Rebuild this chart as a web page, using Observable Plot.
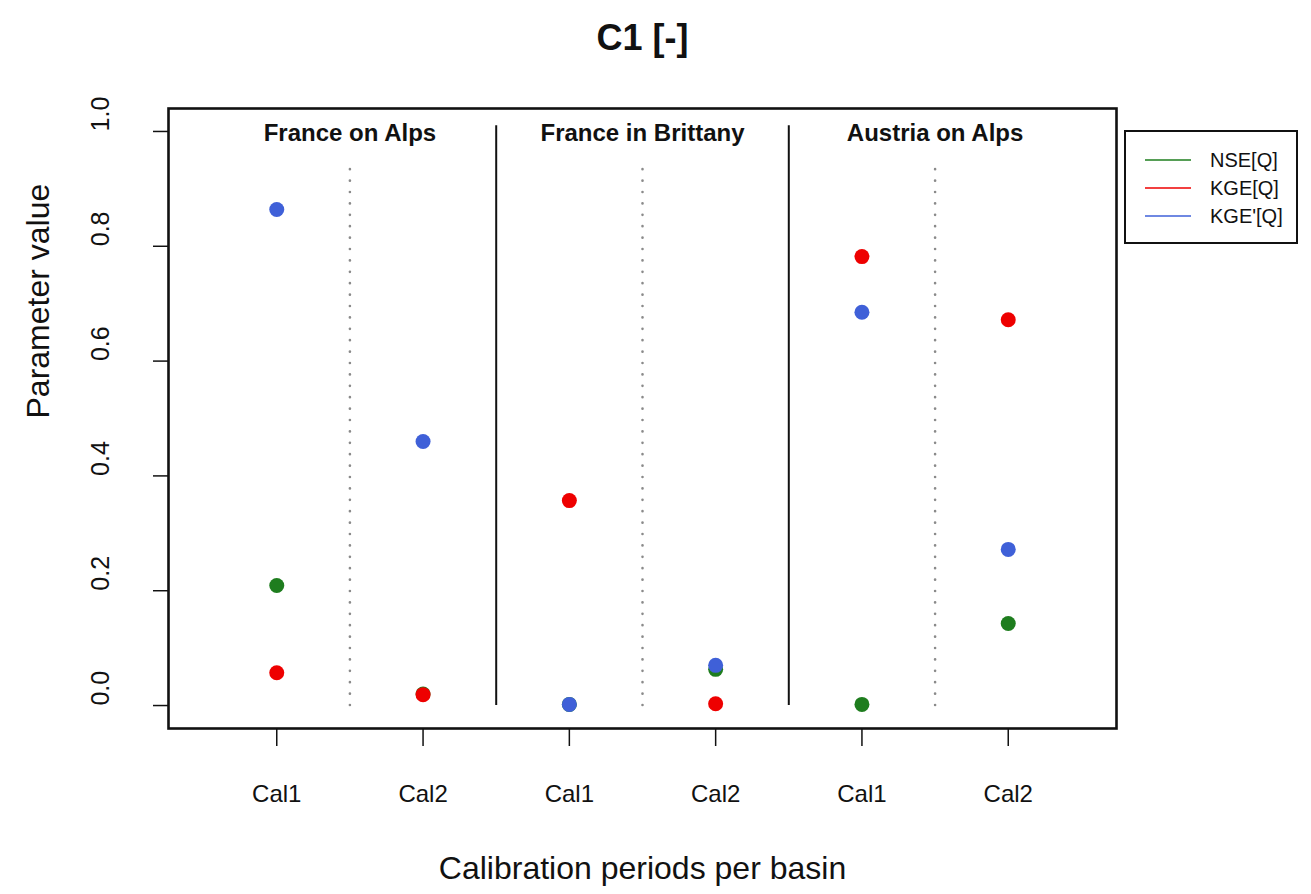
<!DOCTYPE html>
<html>
<head>
<meta charset="utf-8">
<script src="https://cdn.jsdelivr.net/npm/d3@7"></script>
<script src="https://cdn.jsdelivr.net/npm/@observablehq/plot@0.6"></script>
<style>
  body { margin: 0; background: #fff; font-family: "Liberation Sans", Arial, Helvetica, sans-serif; }
  #chart { position: relative; width: 1311px; height: 894px; }
  .legend { position: absolute; left: 1124px; top: 130px; width: 170px; height: 110px;
            border: 2px solid #111; background: #fff; }
  .legend .row { position: absolute; left: 0; height: 24px; width: 100%; }
  .legend .swatch { position: absolute; left: 19px; top: 11px; width: 46px; height: 2px; }
  .legend .label { position: absolute; left: 84px; top: 0; font-size: 20px; line-height: 24px; color: #111; }
</style>
</head>
<body>
<div id="chart"></div>
<script>
// Basins, calibration periods and criteria
const basins = ["France on Alps", "France in Brittany", "Austria on Alps"];
const periods = ["Cal1", "Cal2"];
const series = ["NSE[Q]", "KGE[Q]", "KGE'[Q]"];
const colors = ["#1e7d1e", "#ee0000", "#3f60d8"];

// C1 parameter per slot: (Alps Cal1, Alps Cal2, Brittany Cal1, Brittany Cal2, Austria Cal1, Austria Cal2)
const nseValues = [0.209, 0.020, 0.002, 0.063, 0.002, 0.143];
const kgeValues = [0.057, 0.019, 0.357, 0.003, 0.782, 0.672];
const kgePrimeValues = [0.864, 0.460, 0.002, 0.070, 0.685, 0.272];

const yTicks = [0, 0.2, 0.4, 0.6, 0.8, 1.0];

// Slot positions 1..6, basin centres and basin boundaries
const slots = d3.range(1, basins.length * periods.length + 1);
const basinCenters = basins.map((_, i) => i * periods.length + 1.5);
const basinBounds = basins.slice(1).map((_, i) => (i + 1) * periods.length + 0.5);

const rows = [nseValues, kgeValues, kgePrimeValues].flatMap((vals, s) =>
  vals.map((v, j) => ({ series: series[s], slot: slots[j], value: v }))
);

const font = "'Liberation Sans', Arial, Helvetica, sans-serif";

const plot = Plot.plot({
  width: 1311,
  height: 894,
  marginLeft: 168,
  marginRight: 195,
  marginTop: 108,
  marginBottom: 166,
  x: { domain: [0.26, 6.74], axis: null },
  y: { domain: [-0.04, 1.04], axis: null },
  color: { domain: series, range: colors },
  style: { fontFamily: font, background: "white", color: "#111", overflow: "visible" },
  marks: [
    Plot.ruleX(basinCenters, { x: d => d, y1: 0, y2: 0.95, stroke: "#8a8a8a", strokeWidth: 2.6,
      strokeDasharray: "0.1,11.3", strokeLinecap: "round" }),
    Plot.ruleX(basinBounds, { x: d => d, y1: 0, y2: 1.01, stroke: "#111", strokeWidth: 2 }),
    Plot.dot(rows, { x: "slot", y: "value", fill: "series", r: 7.5 }),
    Plot.text(basins, { x: (d, i) => basinCenters[i], text: d => d, frameAnchor: "top", dy: 25,
      lineAnchor: "middle", fontSize: 24, fontWeight: "bold", fill: "#111" }),
    Plot.frame({ stroke: "#111", strokeWidth: 2.6 }),
    Plot.axisX({ ticks: slots, tickSize: 18, tickPadding: 38, strokeWidth: 1.5,
      tickFormat: d => periods[(d - 1) % periods.length], fontSize: 24, label: null }),
    Plot.axisY({ ticks: yTicks, tickSize: 15, strokeWidth: 1.5, tickFormat: () => "", label: null }),
    Plot.text(yTicks, { y: d => d, text: d => d.toFixed(1), frameAnchor: "left", dx: -68,
      rotate: -90, fontSize: 25, fill: "#111" }),
    Plot.text(["Calibration periods per basin"], { text: d => d, frameAnchor: "bottom", dy: 150,
      fontSize: 32, fill: "#111" }),
    Plot.text(["Parameter value"], { text: d => d, frameAnchor: "left", dx: -130, rotate: -90,
      fontSize: 32, fill: "#111" }),
    Plot.text(["C1 [-]"], { text: d => d, frameAnchor: "top", dy: -84, fontSize: 36,
      fontWeight: "bold", fill: "#111" })
  ]
});

const chart = document.getElementById("chart");
chart.appendChild(plot);

// Legend box with line swatches
const legend = d3.select(chart).append("div").attr("class", "legend");
series.forEach((name, i) => {
  const row = legend.append("div").attr("class", "row").style("top", `${16 + i * 28}px`);
  row.append("div").attr("class", "swatch").style("background", colors[i]).style("opacity", 0.75);
  row.append("div").attr("class", "label").text(name);
});
</script>
</body>
</html>
